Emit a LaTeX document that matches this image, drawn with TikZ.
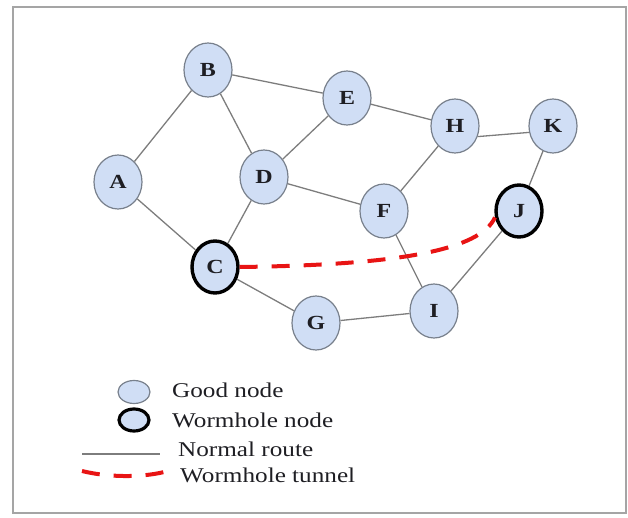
\documentclass[tikz,border=0pt]{standalone}
\usepackage{fontspec}
\setmainfont[FakeStretch=1.2]{Liberation Serif}
\usetikzlibrary{shapes.geometric}

\definecolor{nodefill}{RGB}{208,222,245}
\definecolor{nodeline}{RGB}{120,128,140}
\definecolor{edgegray}{RGB}{125,125,125}
\definecolor{framegray}{RGB}{165,165,165}
\definecolor{tunnelred}{RGB}{232,20,20}
\definecolor{inktext}{RGB}{30,30,35}

\tikzset{
  good/.style={ellipse, draw=nodeline, line width=1.2pt, fill=nodefill,
    minimum width=48pt, minimum height=54pt, inner sep=0pt, text=inktext,
    font=\fontsize{20}{20}\selectfont\bfseries},
  worm/.style={good, draw=black, line width=3.4pt, minimum width=46pt, minimum height=52pt},
  route/.style={draw=edgegray, line width=1.3pt},
  tunnel/.style={draw=tunnelred, line width=4pt, dash pattern=on 18pt off 14pt},
  legtext/.style={anchor=west, inner sep=0pt, text=inktext, font=\fontsize{21}{21}\selectfont}
}

\begin{document}
\begin{tikzpicture}[x=1pt, y=-1pt]
  \useasboundingbox (0,0) rectangle (628,518);
  % outer frame
  \draw[framegray, line width=2pt] (13,7) rectangle (626,513);

  % network nodes
  \node[good] (A) at (118,182) {A};
  \node[good] (B) at (208,70)  {B};
  \node[worm] (C) at (215,267) {C};
  \node[good] (D) at (264,177) {D};
  \node[good] (E) at (347,98)  {E};
  \node[good] (F) at (384,211) {F};
  \node[good] (G) at (316,323) {G};
  \node[good] (H) at (455,126) {H};
  \node[good] (I) at (434,311) {I};
  \node[worm] (J) at (519,211) {J};
  \node[good] (K) at (553,126) {K};

  % normal routes
  \draw[route] (A) -- (B);
  \draw[route] (A) -- (C);
  \draw[route] (B) -- (D);
  \draw[route] (B) -- (E);
  \draw[route] (E) -- (D);
  \draw[route] (E) -- (H);
  \draw[route] (H.-25) -- (K.195);
  \draw[route] (H) -- (F);
  \draw[route] (D) -- (F);
  \draw[route] (D) -- (C);
  \draw[route] (F) -- (I);
  \draw[route] (C) -- (G);
  \draw[route] (G) -- (I);
  \draw[route] (I) -- (J);
  \draw[route] (K) -- (J);

  % wormhole tunnel between C and J
  \draw[tunnel] (C.east) .. controls (400,265) and (480,250) .. (J.195);

  % legend
  \node[good, minimum width=32pt, minimum height=23pt] (lgood) at (134,392) {};
  \node[legtext] (tgood) at (172,390) {Good node};
  \node[worm, line width=3.2pt, minimum width=30pt, minimum height=22pt] (lworm) at (134,420) {};
  \node[legtext] (tworm) at (172,420) {Wormhole node};
  \coordinate (nr1) at (82,454);
  \coordinate (nr2) at (160,454);
  \draw[route] (nr1) -- (nr2);
  \node[legtext] (troute) at (178,449) {Normal route};
  \coordinate (wt1) at (82,471);
  \coordinate (wt2) at (174,469);
  \draw[tunnel] (wt1) .. controls (110,478) and (150,478) .. (wt2);
  \node[legtext] (ttunnel) at (180,475) {Wormhole tunnel};
\end{tikzpicture}
\end{document}
